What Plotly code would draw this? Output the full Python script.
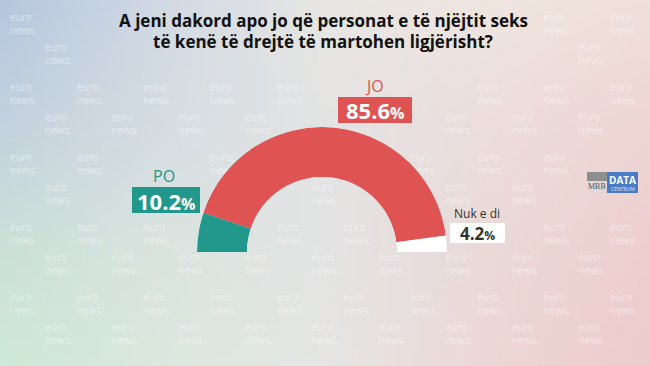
import plotly.graph_objects as go
import numpy as np
import zlib, struct, base64

# ---------------- data ----------------
categories = ["PO", "JO", "Nuk e di"]
values = [10.2, 85.6, 4.2]
value_labels = ["10.2", "85.6", "4.2"]
colors = ["#21988b", "#e05353", "#ffffff"]
title_lines = ["A jeni dakord apo jo që personat e të njëjtit seks",
               "të kenë të drejtë të martohen ligjërisht?"]

W, H = 650, 366


def px(x):
    return x / W


def py(y):
    return 1 - y / H


# ---------------- background gradient image ----------------
def png_uri(img):
    h, w, _ = img.shape
    raw = b"".join(b"\x00" + img[r].astype(np.uint8).tobytes() for r in range(h))

    def chunk(t, d):
        c = struct.pack(">I", len(d)) + t + d
        return c + struct.pack(">I", zlib.crc32(t + d) & 0xffffffff)

    png = (b"\x89PNG\r\n\x1a\n"
           + chunk(b"IHDR", struct.pack(">IIBBBBB", w, h, 8, 2, 0, 0, 0))
           + chunk(b"IDAT", zlib.compress(raw, 9))
           + chunk(b"IEND", b""))
    return "data:image/png;base64," + base64.b64encode(png).decode()


ctrl = np.array([
    [(182, 200, 222), (210, 218, 228), (232, 231, 228), (240, 230, 224), (240, 224, 220)],
    [(196, 210, 222), (214, 221, 226), (228, 228, 228), (236, 222, 220), (238, 214, 212)],
    [(204, 224, 216), (218, 228, 224), (228, 228, 228), (234, 218, 216), (238, 208, 207)],
    [(206, 233, 214), (220, 232, 222), (230, 230, 228), (236, 216, 214), (238, 204, 204)],
], dtype=float)
GH, GW = 73, 130
ys = np.linspace(0, ctrl.shape[0] - 1, GH)
xs = np.linspace(0, ctrl.shape[1] - 1, GW)
img = np.zeros((GH, GW, 3))
for i, yy in enumerate(ys):
    y0 = min(int(yy), ctrl.shape[0] - 2)
    fy = yy - y0
    row = ctrl[y0] * (1 - fy) + ctrl[y0 + 1] * fy
    for c in range(3):
        img[i, :, c] = np.interp(xs, np.arange(ctrl.shape[1]), row[:, c])
bg_uri = png_uri(np.clip(img, 0, 255))

fig = go.Figure()

# ---------------- watermark (decoration, kept clear of real text) ----------------
keep_clear = [(108, 6, 540, 54), (126, 166, 206, 218), (330, 78, 418, 128),
              (444, 206, 512, 248), (580, 166, 645, 198)]


def clear(xx, yc):
    for (a, b, c, d) in keep_clear:
        if xx < c and xx + 32 > a and yc - 11 < d and yc + 11 > b:
            return False
    return True


wx, wy = [], []
for r in range(10):
    yc = 25 + (r // 2) * 70 + (r % 2) * 30
    x0 = 10 if r % 2 == 0 else 45
    for k in range(10):
        xx = x0 + k * 66.7 - (66.7 if r % 2 else 0)
        if xx < -10 or xx > 625 or not clear(xx, yc):
            continue
        wx.append(xx)
        wy.append(yc)
fig.add_trace(go.Scatter(x=wx, y=wy, text=["euro<br>news."] * len(wx), mode="text",
                         textposition="middle right",
                         textfont=dict(family="Noto Sans", size=10, color="rgba(255,255,255,0.45)"),
                         hoverinfo="skip", showlegend=False, cliponaxis=True))

# ---------------- semi-donut ----------------
total = sum(values)
thetas, widths = [], []
start = 180.0
for v in values:
    w = v / total * 180.0
    thetas.append(start - w / 2)
    widths.append(w)
    start -= w
fig.add_trace(go.Barpolar(r=[1] * len(values), theta=thetas, width=widths,
                          marker=dict(color=colors, line=dict(width=0)),
                          text=categories, hoverinfo="text", showlegend=False))

shapes = []
annotations = []


def ann(x, y, text, font):
    return dict(x=px(x), y=py(y), xref="paper", yref="paper", text=text, showarrow=False,
                xanchor="center", yanchor="middle", font=font)


# title
for i, t in enumerate(title_lines):
    annotations.append(ann(323, 21 + i * 20, "<b>" + t + "</b>",
                           dict(family="Open Sans", size=17, color="#111111")))

# label boxes
box_specs = [
    dict(name_xy=(164, 175.5), box=(132, 187, 200, 213), nsize=16, ncolor=colors[0], bcolor=colors[0], vcolor="#ffffff", vsize=22),
    dict(name_xy=(374, 85.5), box=(338, 97, 412, 123), nsize=16, ncolor=colors[1], bcolor=colors[1], vcolor="#ffffff", vsize=22),
    dict(name_xy=(477, 213.5), box=(450, 223, 505, 243), nsize=12, ncolor="#333333", bcolor="#ffffff", vcolor="#333333", vsize=17),
]
for cat, lab, s in zip(categories, value_labels, box_specs):
    x0, y0, x1, y1 = s["box"]
    shapes.append(dict(type="rect", xref="paper", yref="paper", x0=px(x0), x1=px(x1), y0=py(y1), y1=py(y0),
                       fillcolor=s["bcolor"], line=dict(width=0), layer="above"))
    annotations.append(ann(s["name_xy"][0], s["name_xy"][1], cat,
                           dict(family="Open Sans", size=s["nsize"], color=s["ncolor"])))
    pct = int(s["vsize"] * 0.75)
    annotations.append(ann((x0 + x1) / 2, (y0 + y1) / 2 + 0.5,
                           "<b>" + lab + "<span style='font-size:%dpx'>%%</span></b>" % pct,
                           dict(family="Open Sans", size=s["vsize"], color=s["vcolor"])))

# small "MRB | DATA CENTRUM" logo
shapes += [
    dict(type="rect", xref="paper", yref="paper", x0=px(587), x1=px(607), y0=py(181), y1=py(172),
         fillcolor="#8e8e8e", line=dict(width=0), layer="above"),
    dict(type="rect", xref="paper", yref="paper", x0=px(587), x1=px(607), y0=py(193), y1=py(181),
         fillcolor="#e2d6d6", line=dict(width=0), layer="above"),
    dict(type="rect", xref="paper", yref="paper", x0=px(607), x1=px(638), y0=py(193), y1=py(172),
         fillcolor="#4a7cc6", line=dict(width=0), layer="above"),
]
annotations += [
    ann(597, 186, "MRB", dict(family="Liberation Serif", size=8, color="#555555")),
    ann(622.5, 179.5, "<b>DATA</b>", dict(family="Open Sans", size=10, color="#ffffff")),
    ann(622.5, 188.5, "CENTRUM", dict(family="Open Sans", size=5, color="#dfe8f5")),
]

fig.update_layout(
    width=W, height=H,
    margin=dict(l=0, r=0, t=0, b=0),
    paper_bgcolor="#e4e4e4",
    plot_bgcolor="rgba(0,0,0,0)",
    showlegend=False,
    xaxis=dict(range=[0, W], visible=False, domain=[0, 1], fixedrange=True),
    yaxis=dict(range=[H, 0], visible=False, domain=[0, 1], fixedrange=True),
    polar=dict(
        domain=dict(x=[px(197), px(447)], y=[py(252), py(127)]),
        sector=[0, 180], hole=0.6, bgcolor="rgba(0,0,0,0)",
        radialaxis=dict(visible=False, range=[0, 1]),
        angularaxis=dict(visible=False, direction="counterclockwise", rotation=0),
    ),
    images=[dict(source=bg_uri, xref="paper", yref="paper", x=0, y=1, sizex=1, sizey=1,
                 sizing="stretch", layer="below", xanchor="left", yanchor="top")],
    shapes=shapes,
    annotations=annotations,
)

fig.write_html("out.html", config={"displayModeBar": False},
               post_script="document.body.style.margin='0';")
